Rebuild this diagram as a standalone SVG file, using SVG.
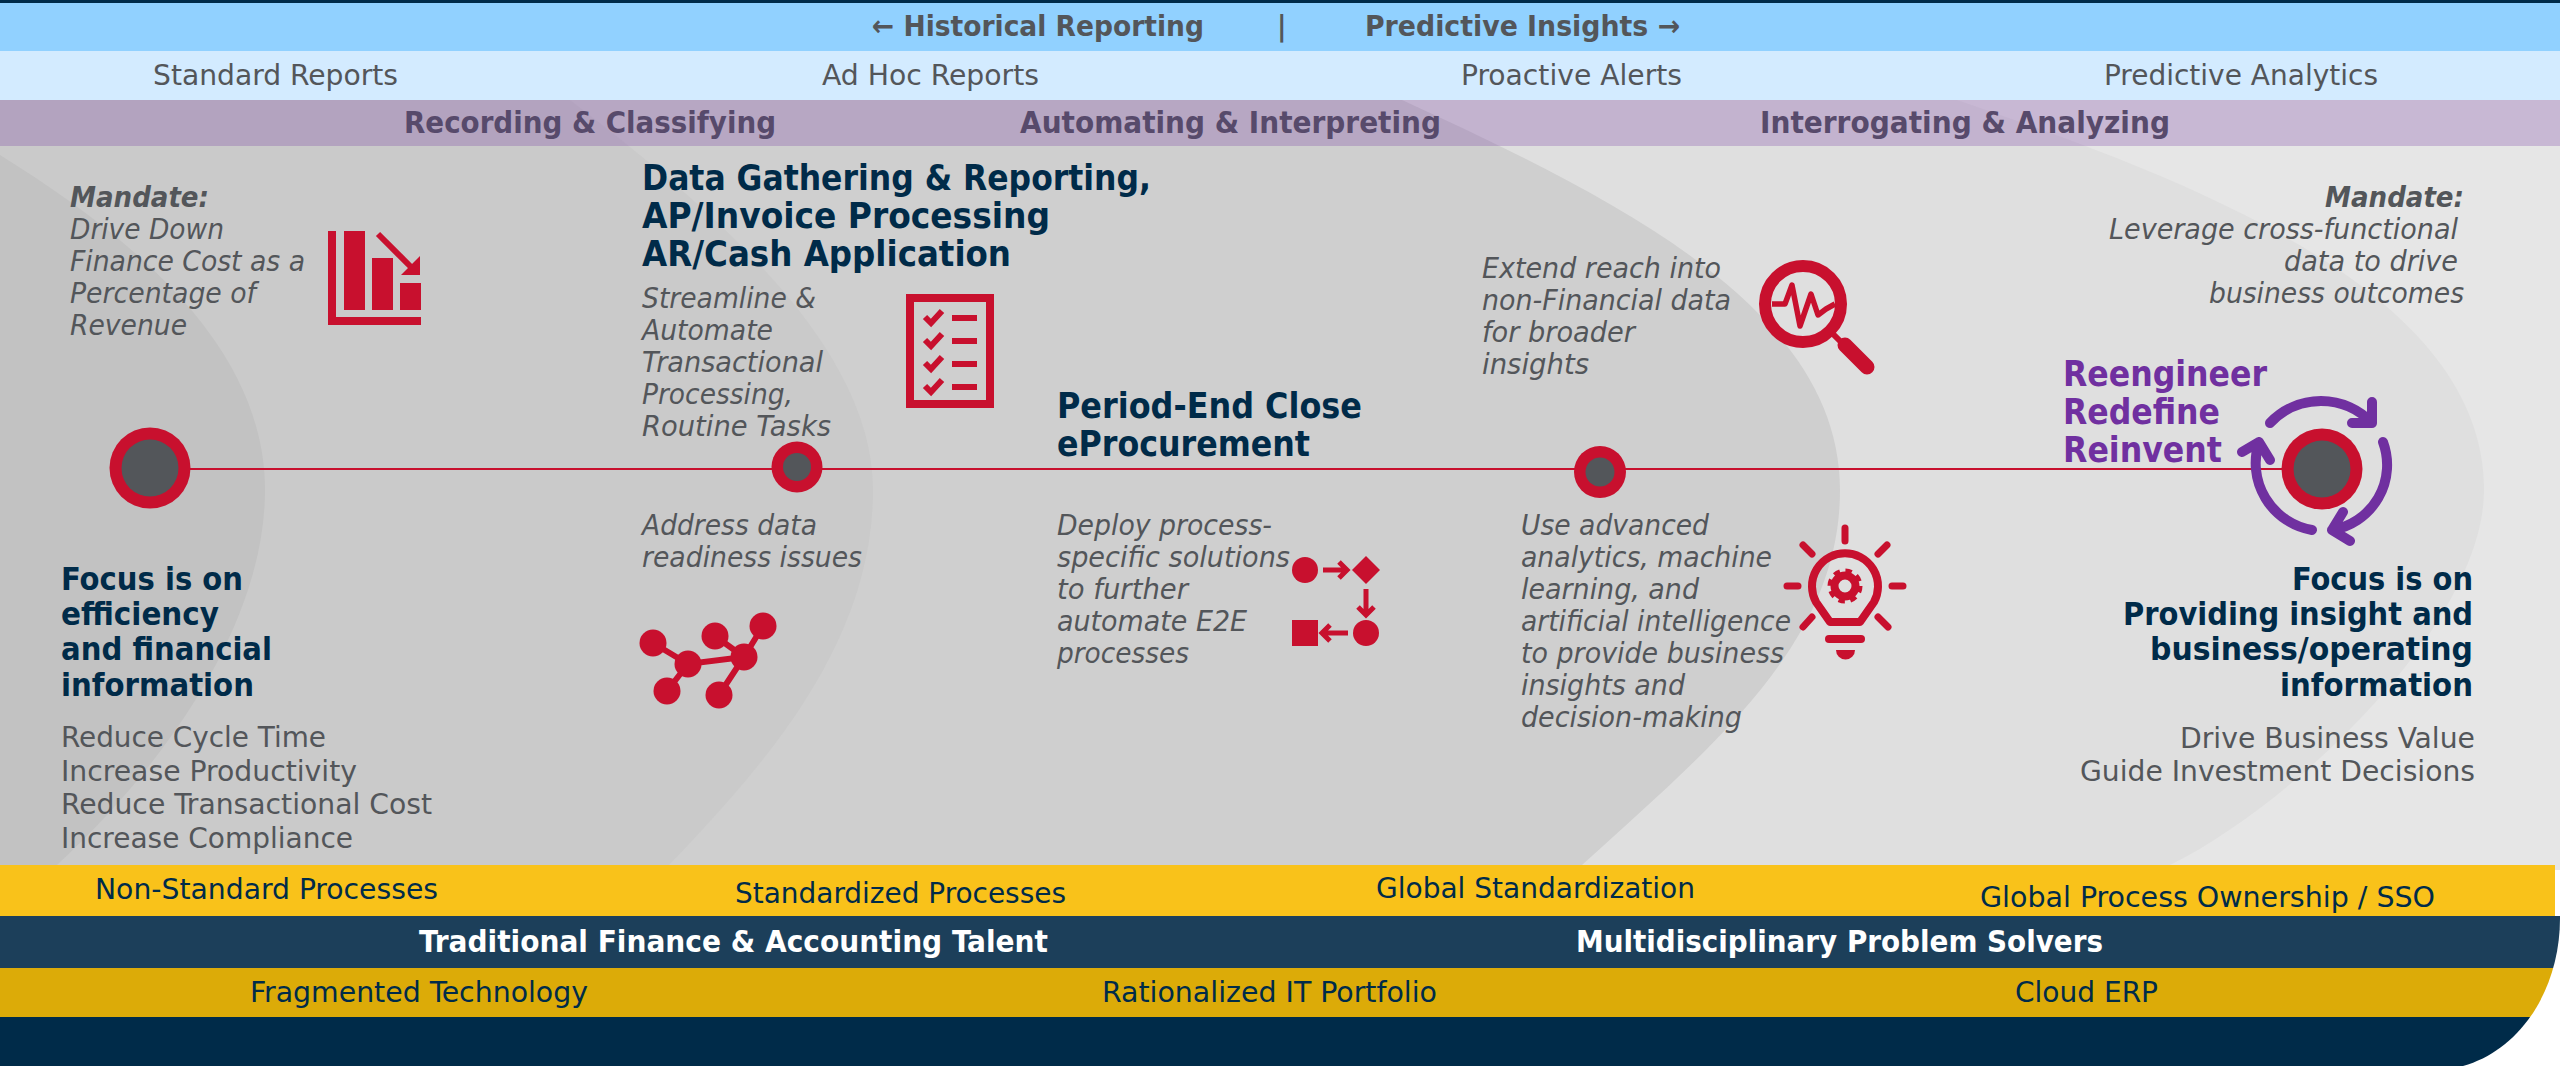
<svg xmlns="http://www.w3.org/2000/svg" width="2560" height="1066" viewBox="0 0 2560 1066">
<style>
text{font-family:"DejaVu Sans Condensed","DejaVu Sans","Liberation Sans",sans-serif;font-stretch:condensed;white-space:pre}
.h{font-size:29px;font-weight:700;fill:#53565a}
.r{font-size:29px;fill:#53565a}
.p{font-size:30px;font-weight:700;fill:#574a6b}
.i{font-size:29px;font-style:italic;fill:#53565a}
.ib{font-size:29px;font-style:italic;font-weight:700;fill:#53565a}
.t{font-size:35px;font-weight:700;fill:#002b49}
.f{font-size:32px;font-weight:700;fill:#002b49}
.g{font-size:35px;font-weight:700;fill:#7030a0}
.b{font-size:29px;fill:#002b49}
.w{font-size:30px;font-weight:700;fill:#fff}
.red{fill:#c8102e}
.rs{fill:none;stroke:#c8102e}
.cy{fill:none;stroke:#7030a0;stroke-width:10;stroke-linecap:round;stroke-linejoin:round}
.gr{fill:#53565a}
</style>
<defs>
<clipPath id="corner"><path d="M0 860H2560V918C2560 990 2520 1050 2463 1066H0Z"/></clipPath>
</defs>
<rect width="2560" height="1066" fill="#fff"/>
<g id="background">
<rect y="100" width="2560" height="770" fill="#e6e6e6"/>
<path fill="#dfdfdf" d="M0 100H1957C2190 180 2484 290 2484 490C2484 620 2300 800 2170 865H0Z"/>
<path fill="#cfcfcf" d="M0 100H1402C1620 200 1840 310 1840 490C1840 640 1720 740 1582 865H0Z"/>
<path fill="#cacaca" d="M0 100H570C700 200 873 340 873 490C873 640 770 760 669 865H0Z"/>
<path fill="#c2c2c2" d="M0 155C120 230 265 340 265 490C265 620 170 760 57 865H0Z"/>
<rect y="100" width="2560" height="46" fill="#7030a0" fill-opacity=".25"/>
<rect width="2560" height="3" fill="#002b49"/>
<rect y="3" width="2560" height="48" fill="#91d1ff"/>
<rect y="51" width="2560" height="49" fill="#d3ebff"/>
</g>
<g id="bands">
<rect y="865" width="2555" height="51" fill="#f9c21a"/>
<g clip-path="url(#corner)">
<rect y="916" width="2560" height="52" fill="#1c3f5a"/>
<rect y="968" width="2560" height="49" fill="#dcab08"/>
<rect y="1017" width="2560" height="49" fill="#002b49"/>
</g>
</g>
<g id="header-labels">
<text class="h" x="872" y="36" textLength="332" lengthAdjust="spacingAndGlyphs">← Historical Reporting</text>
<text class="h" x="1277" y="36">|</text>
<text class="h" x="1365" y="36" textLength="315" lengthAdjust="spacingAndGlyphs">Predictive Insights →</text>
<text class="r" x="153" y="85" textLength="245" lengthAdjust="spacingAndGlyphs">Standard Reports</text>
<text class="r" x="822" y="85" textLength="217" lengthAdjust="spacingAndGlyphs">Ad Hoc Reports</text>
<text class="r" x="1461" y="85" textLength="221" lengthAdjust="spacingAndGlyphs">Proactive Alerts</text>
<text class="r" x="2104" y="85" textLength="274" lengthAdjust="spacingAndGlyphs">Predictive Analytics</text>
<text class="p" x="404" y="133" textLength="372" lengthAdjust="spacingAndGlyphs">Recording &amp; Classifying</text>
<text class="p" x="1020" y="133" textLength="421" lengthAdjust="spacingAndGlyphs">Automating &amp; Interpreting</text>
<text class="p" x="1760" y="133" textLength="410" lengthAdjust="spacingAndGlyphs">Interrogating &amp; Analyzing</text>
</g>
<g id="connectors">
<line x1="150" y1="469" x2="2322" y2="469" stroke="#c8102e" stroke-width="2"/>
</g>
<g id="node-start"><circle class="red" cx="150" cy="468" r="40.5"/><circle class="gr" cx="150" cy="468" r="28.5"/></g>
<g id="node-two"><circle class="red" cx="797" cy="467" r="25.5"/><circle class="gr" cx="797" cy="467" r="14"/></g>
<g id="node-three"><circle class="red" cx="1600" cy="472" r="26"/><circle class="gr" cx="1600" cy="472" r="14.5"/></g>
<g id="node-end">
<circle class="red" cx="2322" cy="469" r="40.5"/><circle class="gr" cx="2322" cy="469" r="28.5"/>
<path class="cy" d="M2270 423A70 70 0 0 1 2372 423M2372 402V423H2352"/>
<path class="cy" d="M2383 442A66 66 0 0 1 2332 530M2343 512L2332 530L2350 541"/>
<path class="cy" d="M2312 530A68 68 0 0 1 2259 442M2242 452L2259 442L2270 460"/>
</g>
<g id="mandate-left">
<text class="ib" x="70" y="207" textLength="139" lengthAdjust="spacingAndGlyphs">Mandate:</text>
<text class="i" x="70" y="239" textLength="154" lengthAdjust="spacingAndGlyphs">Drive Down</text>
<text class="i" x="70" y="271" textLength="235" lengthAdjust="spacingAndGlyphs">Finance Cost as a</text>
<text class="i" x="70" y="303" textLength="186" lengthAdjust="spacingAndGlyphs">Percentage of</text>
<text class="i" x="70" y="335" textLength="117" lengthAdjust="spacingAndGlyphs">Revenue</text>
</g>
<g id="icon-chart">
<path class="red" d="M328 231H336V317H421V325H328Z"/>
<rect class="red" x="344" y="231" width="21" height="79"/>
<rect class="red" x="372" y="258" width="21" height="52"/>
<rect class="red" x="400" y="283" width="21" height="27"/>
<path class="rs" stroke-width="6" d="M378 234L411 267"/>
<path class="red" d="M420 256V275H401Z"/>
</g>
<g id="stage-gathering">
<text class="t" x="642" y="190" textLength="509" lengthAdjust="spacingAndGlyphs">Data Gathering &amp; Reporting,</text>
<text class="t" x="642" y="228" textLength="408" lengthAdjust="spacingAndGlyphs">AP/Invoice Processing</text>
<text class="t" x="642" y="266" textLength="369" lengthAdjust="spacingAndGlyphs">AR/Cash Application</text>
<text class="i" x="642" y="308" textLength="174" lengthAdjust="spacingAndGlyphs">Streamline &amp;</text>
<text class="i" x="642" y="340" textLength="131" lengthAdjust="spacingAndGlyphs">Automate</text>
<text class="i" x="642" y="372" textLength="181" lengthAdjust="spacingAndGlyphs">Transactional</text>
<text class="i" x="642" y="404" textLength="151" lengthAdjust="spacingAndGlyphs">Processing,</text>
<text class="i" x="642" y="436" textLength="189" lengthAdjust="spacingAndGlyphs">Routine Tasks</text>
<text class="i" x="642" y="535" textLength="175" lengthAdjust="spacingAndGlyphs">Address data</text>
<text class="i" x="642" y="567" textLength="220" lengthAdjust="spacingAndGlyphs">readiness issues</text>
</g>
<g id="icon-checklist">
<rect class="rs" stroke-width="8" x="910" y="298" width="80" height="106"/>
<g class="red"><rect x="952" y="315" width="25" height="6"/><rect x="952" y="338" width="25" height="6"/><rect x="952" y="361" width="25" height="6"/><rect x="952" y="384" width="25" height="6"/></g>
<path class="rs" stroke-width="6" d="M925 317L931 323L942 311M925 340L931 346L942 334M925 363L931 369L942 357M925 386L931 392L942 380"/>
</g>
<g id="icon-network">
<path class="rs" stroke-width="6" d="M653 643L688 664L744 657L763 626M667 691L688 664M715 636L744 657L719 695"/>
<g class="red"><circle cx="653" cy="643" r="13.5"/><circle cx="688" cy="664" r="13.5"/><circle cx="667" cy="691" r="13.5"/><circle cx="715" cy="636" r="13.5"/><circle cx="763" cy="626" r="13.5"/><circle cx="744" cy="657" r="13.5"/><circle cx="719" cy="695" r="13.5"/></g>
</g>
<g id="stage-close">
<text class="t" x="1057" y="418" textLength="305" lengthAdjust="spacingAndGlyphs">Period-End Close</text>
<text class="t" x="1057" y="456" textLength="253" lengthAdjust="spacingAndGlyphs">eProcurement</text>
<text class="i" x="1057" y="535" textLength="215" lengthAdjust="spacingAndGlyphs">Deploy process-</text>
<text class="i" x="1057" y="567" textLength="233" lengthAdjust="spacingAndGlyphs">specific solutions</text>
<text class="i" x="1057" y="599" textLength="131" lengthAdjust="spacingAndGlyphs">to further</text>
<text class="i" x="1057" y="631" textLength="190" lengthAdjust="spacingAndGlyphs">automate E2E</text>
<text class="i" x="1057" y="663" textLength="132" lengthAdjust="spacingAndGlyphs">processes</text>
</g>
<g id="icon-flow">
<g class="red"><circle cx="1305" cy="570" r="13"/><path d="M1366 556L1380 570L1366 584L1352 570Z"/><circle cx="1366" cy="633" r="13"/><rect x="1292" y="620" width="26" height="26"/></g>
<path class="rs" stroke-width="5" d="M1323 570H1347M1339 562L1347 570L1339 578M1366 589V615M1358 607L1366 615L1374 607M1348 633H1322M1330 625L1322 633L1330 641"/>
</g>
<g id="stage-extend">
<text class="i" x="1482" y="278" textLength="239" lengthAdjust="spacingAndGlyphs">Extend reach into</text>
<text class="i" x="1482" y="310" textLength="249" lengthAdjust="spacingAndGlyphs">non-Financial data</text>
<text class="i" x="1482" y="342" textLength="153" lengthAdjust="spacingAndGlyphs">for broader</text>
<text class="i" x="1482" y="374" textLength="107" lengthAdjust="spacingAndGlyphs">insights</text>
<text class="i" x="1521" y="535" textLength="188" lengthAdjust="spacingAndGlyphs">Use advanced</text>
<text class="i" x="1521" y="567" textLength="251" lengthAdjust="spacingAndGlyphs">analytics, machine</text>
<text class="i" x="1521" y="599" textLength="178" lengthAdjust="spacingAndGlyphs">learning, and</text>
<text class="i" x="1521" y="631" textLength="270" lengthAdjust="spacingAndGlyphs">artificial intelligence</text>
<text class="i" x="1521" y="663" textLength="263" lengthAdjust="spacingAndGlyphs">to provide business</text>
<text class="i" x="1521" y="695" textLength="164" lengthAdjust="spacingAndGlyphs">insights and</text>
<text class="i" x="1521" y="727" textLength="221" lengthAdjust="spacingAndGlyphs">decision-making</text>
</g>
<g id="icon-magnifier">
<circle class="rs" stroke-width="12" cx="1803" cy="304" r="38"/>
<path class="rs" stroke-width="5.5" stroke-linejoin="round" d="M1772 304H1785L1792 285L1800 326L1811 294L1818 315L1826 309L1835 304"/>
<path class="rs" stroke-width="6" d="M1832 333L1842 343"/>
<path class="rs" stroke-width="15" stroke-linecap="round" d="M1845 345L1867 367"/>
</g>
<g id="icon-bulb">
<path class="rs" stroke-width="8" stroke-linejoin="round" d="M1830 622L1816 602A33 33 0 1 1 1874 602L1860 622Z"/>
<path class="rs" stroke-width="8" stroke-linecap="round" d="M1829 639H1861"/>
<path class="red" d="M1836 650H1855A9.5 9.5 0 0 1 1836 650Z"/>
<path class="rs" stroke-width="7" stroke-linecap="round" d="M1845 528V541M1787 586H1798M1892 586H1903M1803 545L1812 554M1887 545L1878 554M1803 627L1812 617M1888 627L1878 617"/>
<circle class="rs" stroke-width="8" cx="1845" cy="586" r="10.5"/>
<circle class="rs" stroke-width="4" stroke-dasharray="6.5 5.67" cx="1845" cy="586" r="15.5"/>
</g>
<g id="mandate-right">
<text class="ib" x="2325" y="207" textLength="139" lengthAdjust="spacingAndGlyphs">Mandate:</text>
<text class="i" x="2109" y="239" textLength="349" lengthAdjust="spacingAndGlyphs">Leverage cross-functional</text>
<text class="i" x="2284" y="271" textLength="174" lengthAdjust="spacingAndGlyphs">data to drive</text>
<text class="i" x="2209" y="303" textLength="255" lengthAdjust="spacingAndGlyphs">business outcomes</text>
</g>
<g id="reinvent-labels">
<text class="g" x="2063" y="386" textLength="204" lengthAdjust="spacingAndGlyphs">Reengineer</text>
<text class="g" x="2063" y="424" textLength="157" lengthAdjust="spacingAndGlyphs">Redefine</text>
<text class="g" x="2063" y="462" textLength="159" lengthAdjust="spacingAndGlyphs">Reinvent</text>
</g>
<g id="focus-left">
<text class="f" x="61" y="590" textLength="182" lengthAdjust="spacingAndGlyphs">Focus is on</text>
<text class="f" x="61" y="625" textLength="158" lengthAdjust="spacingAndGlyphs">efficiency</text>
<text class="f" x="61" y="660" textLength="211" lengthAdjust="spacingAndGlyphs">and financial</text>
<text class="f" x="61" y="696" textLength="193" lengthAdjust="spacingAndGlyphs">information</text>
<text class="r" x="61" y="747" textLength="265" lengthAdjust="spacingAndGlyphs">Reduce Cycle Time</text>
<text class="r" x="61" y="781" textLength="296" lengthAdjust="spacingAndGlyphs">Increase Productivity</text>
<text class="r" x="61" y="814" textLength="371" lengthAdjust="spacingAndGlyphs">Reduce Transactional Cost</text>
<text class="r" x="61" y="848" textLength="292" lengthAdjust="spacingAndGlyphs">Increase Compliance</text>
</g>
<g id="focus-right">
<text class="f" x="2292" y="590" textLength="181" lengthAdjust="spacingAndGlyphs">Focus is on</text>
<text class="f" x="2123" y="625" textLength="350" lengthAdjust="spacingAndGlyphs">Providing insight and</text>
<text class="f" x="2150" y="660" textLength="323" lengthAdjust="spacingAndGlyphs">business/operating</text>
<text class="f" x="2280" y="696" textLength="193" lengthAdjust="spacingAndGlyphs">information</text>
<text class="r" x="2180" y="748" textLength="295" lengthAdjust="spacingAndGlyphs">Drive Business Value</text>
<text class="r" x="2080" y="781" textLength="395" lengthAdjust="spacingAndGlyphs">Guide Investment Decisions</text>
</g>
<g id="band-labels">
<text class="b" x="95" y="899" textLength="343" lengthAdjust="spacingAndGlyphs">Non-Standard Processes</text>
<text class="b" x="735" y="903" textLength="331" lengthAdjust="spacingAndGlyphs">Standardized Processes</text>
<text class="b" x="1376" y="898" textLength="319" lengthAdjust="spacingAndGlyphs">Global Standardization</text>
<text class="b" x="1980" y="907" textLength="455" lengthAdjust="spacingAndGlyphs">Global Process Ownership / SSO</text>
<text class="w" x="419" y="952" textLength="629" lengthAdjust="spacingAndGlyphs">Traditional Finance &amp; Accounting Talent</text>
<text class="w" x="1576" y="952" textLength="527" lengthAdjust="spacingAndGlyphs">Multidisciplinary Problem Solvers</text>
<text class="b" x="250" y="1002" textLength="338" lengthAdjust="spacingAndGlyphs">Fragmented Technology</text>
<text class="b" x="1102" y="1002" textLength="335" lengthAdjust="spacingAndGlyphs">Rationalized IT Portfolio</text>
<text class="b" x="2015" y="1002" textLength="143" lengthAdjust="spacingAndGlyphs">Cloud ERP</text>
</g>
</svg>
